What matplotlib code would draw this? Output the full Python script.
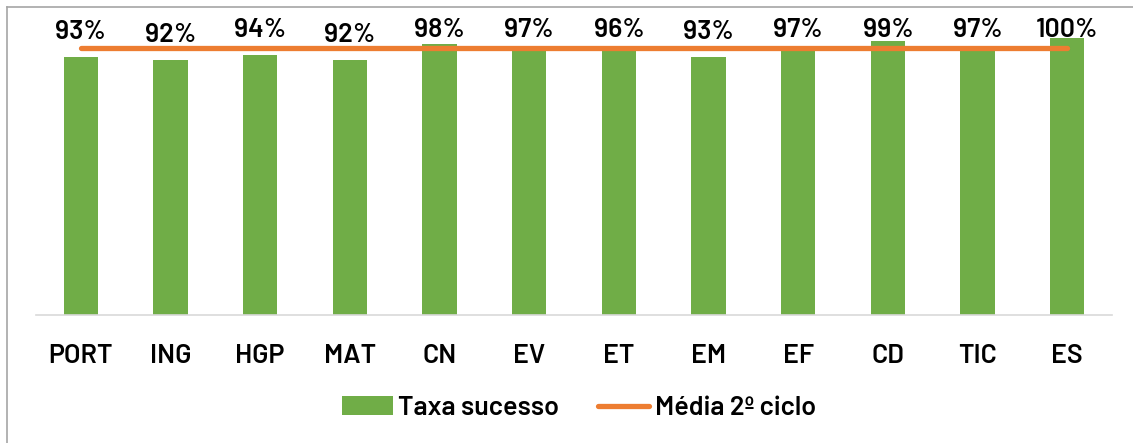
import matplotlib.pyplot as plt
from matplotlib.lines import Line2D
from matplotlib.patches import Patch
import numpy as np

# Data
categories = ["PORT", "ING", "HGP", "MAT", "CN", "EV", "ET", "EM", "EF", "CD", "TIC", "ES"]
taxa_sucesso = [0.93, 0.92, 0.94, 0.92, 0.98, 0.97, 0.96, 0.93, 0.97, 0.99, 0.97, 1.00]
media_2_ciclo = [0.965] * len(categories)

GREEN = "#70AD47"
ORANGE = "#ED7D31"
FONT = ["Barlow", "Liberation Sans", "DejaVu Sans"]
FS = 19.3

plt.rcParams["font.family"] = FONT
plt.rcParams["font.weight"] = "semibold"

W, H = 1133, 443
fig = plt.figure(figsize=(W / 100, H / 100), dpi=100)
fig.patch.set_facecolor("white")

# axes placed in pixel terms
left, right, bottom, top = 36, 1112, 315, 38
ax = fig.add_axes([left / W, 1 - bottom / H, (right - left) / W, (bottom - top) / H])

x = np.arange(len(categories))
ax.bar(x, taxa_sucesso, width=0.38, color=GREEN, zorder=2, label="Taxa sucesso")
ax.plot(x, media_2_ciclo, color=ORANGE, linewidth=3.8, solid_capstyle="round",
        zorder=3, label="Média 2º ciclo")

for xi, v in zip(x, taxa_sucesso):
    ax.text(xi, min(v + 0.092, 1.03), f"{v:.0%}", ha="center", va="center",
            fontsize=FS, color="black", clip_on=False, zorder=4)

ax.set_xlim(-0.5, len(categories) - 0.5)
ax.set_ylim(0, 1.0)
ax.set_xticks(x)
ax.set_xticklabels(categories, fontsize=FS)
ax.tick_params(axis="x", length=0, pad=21)
ax.set_yticks([])
for s in ["top", "right", "left"]:
    ax.spines[s].set_visible(False)
ax.spines["bottom"].set_color("#D9D9D9")
ax.spines["bottom"].set_linewidth(1.2)
ax.set_facecolor("none")

handles = [Patch(facecolor=GREEN, edgecolor="none"),
           Line2D([0], [0], color=ORANGE, linewidth=3.8, solid_capstyle="round")]
fig.legend(handles, ["Taxa sucesso", "Média 2º ciclo"], loc="center",
           bbox_to_anchor=(0.511, 1 - 408 / H), ncol=2, frameon=False,
           fontsize=FS, handlelength=1.9, handletextpad=0.2, columnspacing=1.45)

# chart border (left and top edges visible)
fig.add_artist(Line2D([7 / W, 7 / W], [0, 1 - 7 / H], color="#A6A6A6", linewidth=1.2))
fig.add_artist(Line2D([7 / W, 1], [1 - 7 / H, 1 - 7 / H], color="#A6A6A6", linewidth=1.2))

fig.savefig("out.png", dpi=100, facecolor="white")
